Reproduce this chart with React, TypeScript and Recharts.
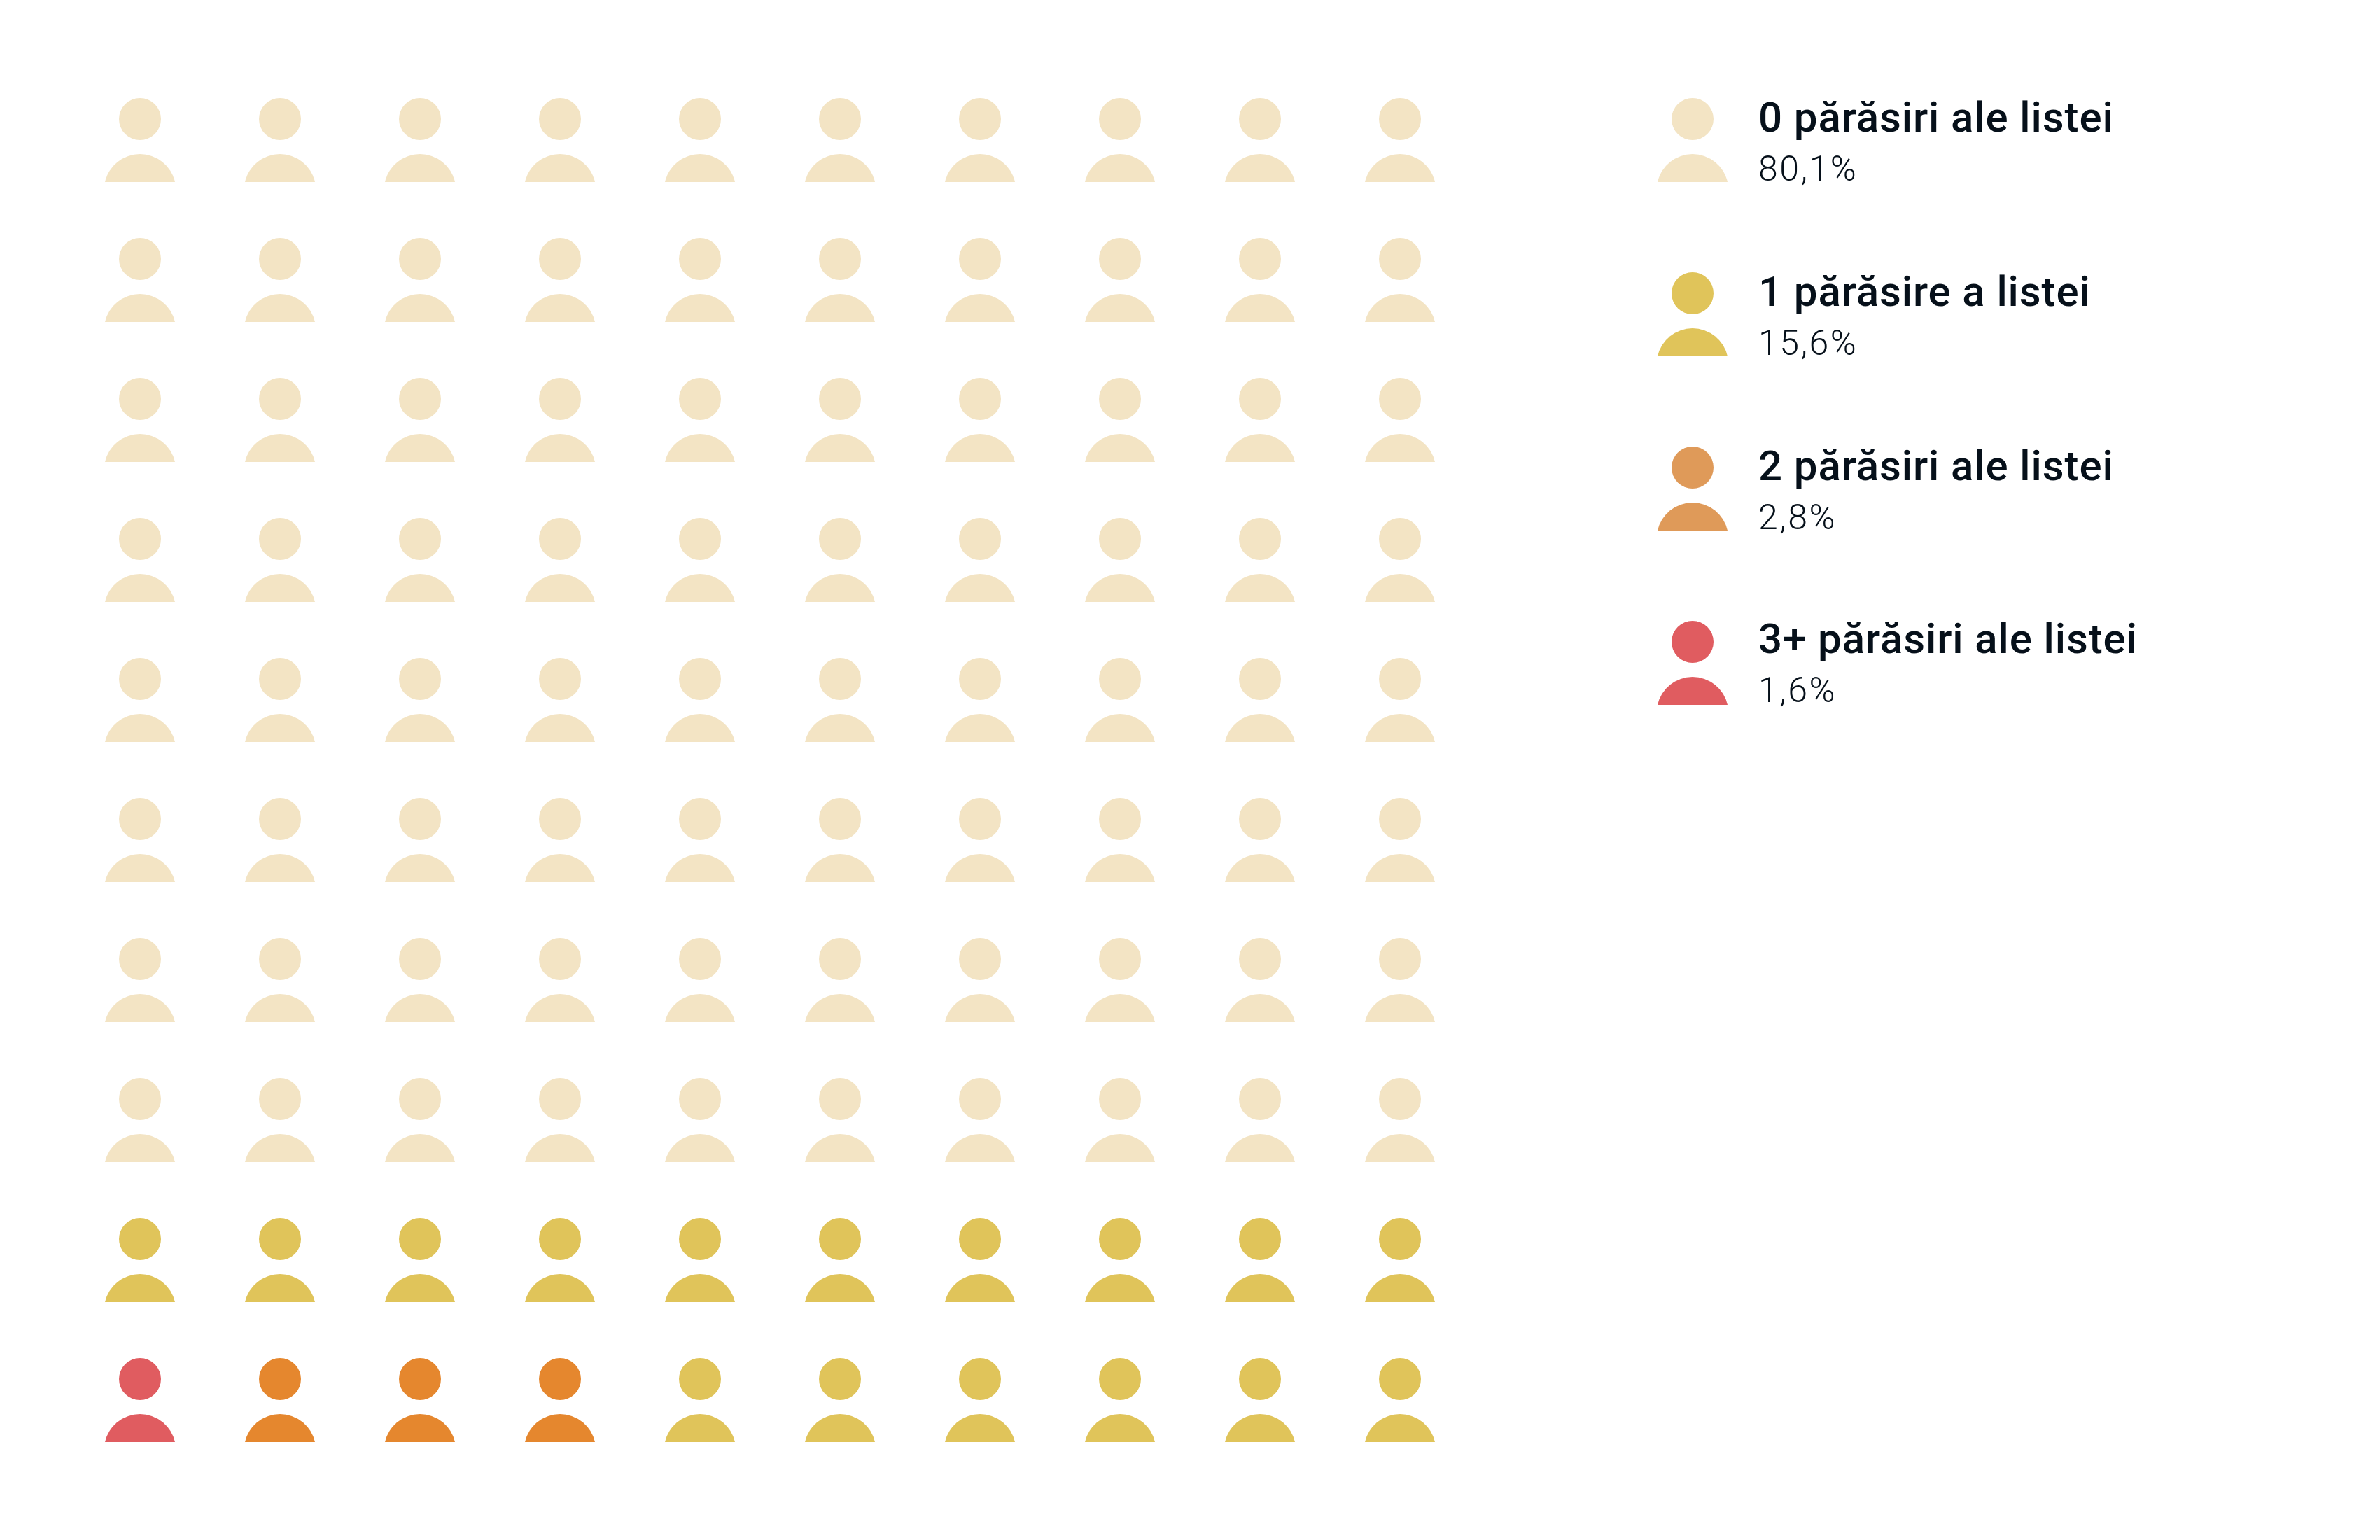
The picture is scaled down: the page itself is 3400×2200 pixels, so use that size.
import React from "react";
import { ScatterChart, Scatter, XAxis, YAxis } from "recharts";

const gridRows = [
  "0000000000",
  "0000000000",
  "0000000000",
  "0000000000",
  "0000000000",
  "0000000000",
  "0000000000",
  "0000000000",
  "1111111111",
  "3222111111",
];
const gridColors = ["#F3E4C4", "#E0C45A", "#E5872E", "#E05C60"];
const legendColors = ["#F3E4C4", "#E0C45A", "#DF9A59", "#E05C60"];
const legendTitles = [
  "0 părăsiri ale listei",
  "1 părăsire a listei",
  "2 părăsiri ale listei",
  "3+ părăsiri ale listei",
];
const legendValues = ["80,1%", "15,6%", "2,8%", "1,6%"];
const legendRows = [0, 1.245, 2.49, 3.735];
const legendColumn = 11.09;

const W = 3400;
const H = 2200;

function Person({ cx, cy, fill }: any) {
  return (
    <g>
      <circle cx={cx} cy={cy} r={30} fill={fill} />
      <path d={`M${cx - 50} ${cy + 90} A51.25 51.25 0 0 1 ${cx + 50} ${cy + 90} Z`} fill={fill} />
    </g>
  );
}

function LegendPerson(props: any) {
  const { cx, cy, fill, title, value, index4 } = props;
  const shift = index4 ? -2 : 0;
  return (
    <g>
      <Person cx={cx} cy={cy} fill={fill} />
      <text x={cx + 94} y={cy + 18 + shift} fontFamily="Roboto" fontWeight={500} fontSize={60} letterSpacing={0.9} fill="#06101A">
        {title}
      </text>
      <text x={cx + 94} y={cy + 88 + shift} fontFamily="Roboto" fontWeight={300} fontSize={50} letterSpacing={2.5} fill="#06101A">
        {value}
      </text>
    </g>
  );
}

const seriesData = gridColors.map((_, k) =>
  gridRows.flatMap((row, r) =>
    row
      .split("")
      .map((c, col) => ({ col, row: r, cat: Number(c) }))
      .filter((d) => d.cat === k)
  )
);

const legendData = legendTitles.map((title, i) => ({
  col: legendColumn,
  row: legendRows[i],
  title,
  value: legendValues[i],
  index4: i === 3,
}));

export default function App() {
  return (
    <div style={{ position: "absolute", left: 0, top: 0, width: W, height: H, background: "#fff" }}>
      <ScatterChart width={W} height={H} margin={{ top: 0, right: 0, bottom: 0, left: 0 }}>
        <XAxis type="number" dataKey="col" domain={[-1, 16]} hide />
        <YAxis type="number" dataKey="row" domain={[-0.85, 10.15]} reversed hide />
        {seriesData.map((d, k) => (
          <Scatter key={k} data={d} fill={gridColors[k]} isAnimationActive={false} shape={<Person />} />
        ))}
        {legendData.map((d, k) => (
          <Scatter
            key={"l" + k}
            data={[d]}
            fill={legendColors[k]}
            isAnimationActive={false}
            shape={<LegendPerson />}
          />
        ))}
      </ScatterChart>
    </div>
  );
}
